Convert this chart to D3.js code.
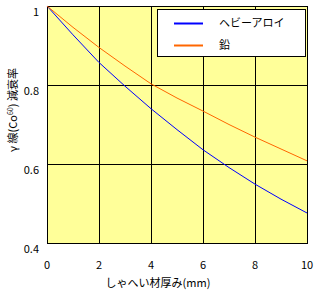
<!DOCTYPE html>
<html lang="ja">
<head>
<meta charset="utf-8">
<script src="https://cdn.jsdelivr.net/npm/d3@7"></script>
<style>
  body { margin: 0; background: #fff; }
  svg text { font-family: "Noto Sans CJK JP", sans-serif; font-size: 11px; fill: #000; }
</style>
</head>
<body>
<script>
// thickness (mm)
var thickness = [0, 1, 2, 3, 4, 5, 6, 7, 8, 9, 10];
// attenuation ratio
var heavyAlloy = [1, 0.927, 0.857, 0.797, 0.740, 0.687, 0.636, 0.591, 0.549, 0.511, 0.476];
var lead = [1, 0.946, 0.895, 0.848, 0.803, 0.767, 0.734, 0.700, 0.668, 0.638, 0.608];
var seriesNames = ["ヘビーアロイ", "鉛"];
var seriesColors = ["#0000ff", "#ff6600"];
var xTicks = [0, 2, 4, 6, 8, 10];
var yTicks = [0.4, 0.6, 0.8, 1];

var w = 320, h = 290;
var pLeft = 47, pRight = 307, pTop = 6, pBottom = 243;

var svg = d3.select("body").append("svg")
  .attr("width", w).attr("height", h);

var x = d3.scaleLinear().domain([0, 10]).range([pLeft, pRight]);
var y = d3.scaleLinear().domain([0.4, 1]).range([pBottom, pTop]);

// plot background
svg.append("rect")
  .attr("x", pLeft).attr("y", pTop)
  .attr("width", pRight - pLeft).attr("height", pBottom - pTop)
  .attr("fill", "#ffff99");

// grid
svg.selectAll(".vg").data(xTicks).enter().append("line")
  .attr("x1", d => Math.round(x(d)) + 0.5).attr("x2", d => Math.round(x(d)) + 0.5)
  .attr("y1", pTop).attr("y2", pBottom)
  .attr("stroke", "#000").attr("stroke-width", 1);
svg.selectAll(".hg").data(yTicks).enter().append("line")
  .attr("y1", d => Math.round(y(d)) + 0.5).attr("y2", d => Math.round(y(d)) + 0.5)
  .attr("x1", pLeft).attr("x2", pRight)
  .attr("stroke", "#000").attr("stroke-width", 1);

// border
svg.append("rect")
  .attr("x", pLeft + 0.5).attr("y", pTop + 0.5)
  .attr("width", pRight - pLeft).attr("height", pBottom - pTop)
  .attr("fill", "none").attr("stroke", "#000");

// tick labels
svg.selectAll(".xl").data(xTicks).enter().append("text")
  .attr("x", d => x(d)).attr("y", 269)
  .attr("text-anchor", "middle")
  .text(d => d);
svg.selectAll(".yl").data(yTicks).enter().append("text")
  .attr("x", 39).attr("y", d => y(d) + 10)
  .attr("text-anchor", "end")
  .text(d => d);

// series lines
var line = d3.line().x((d, i) => x(thickness[i])).y(d => y(d));
[heavyAlloy, lead].forEach(function(s, i) {
  svg.append("path")
    .attr("d", line(s))
    .attr("fill", "none")
    .attr("stroke", seriesColors[i])
    .attr("stroke-width", 1);
});

// axis titles
svg.append("text")
  .attr("x", 158).attr("y", 287)
  .attr("text-anchor", "middle")
  .text("しゃへい材厚み(mm)");

var yt = svg.append("text")
  .attr("transform", "translate(17,110) rotate(-90)")
  .attr("text-anchor", "middle");
yt.append("tspan").text("γ 線(Co");
yt.append("tspan").attr("dy", -4).attr("font-size", "7px").text("60");
yt.append("tspan").attr("dy", 4).text(") 減衰率");

// legend
var lg = svg.append("g");
lg.append("rect")
  .attr("x", 157.5).attr("y", 9.5).attr("width", 148).attr("height", 47)
  .attr("fill", "#fff").attr("stroke", "#000");
seriesNames.forEach(function(n, i) {
  var ly = 23 + i * 22;
  lg.append("line")
    .attr("x1", 174).attr("x2", 203)
    .attr("y1", ly + 0.5).attr("y2", ly + 0.5)
    .attr("stroke", seriesColors[i]).attr("stroke-width", 2);
  lg.append("text")
    .attr("x", 219).attr("y", ly + 4)
    .text(n);
});
</script>
</body>
</html>
